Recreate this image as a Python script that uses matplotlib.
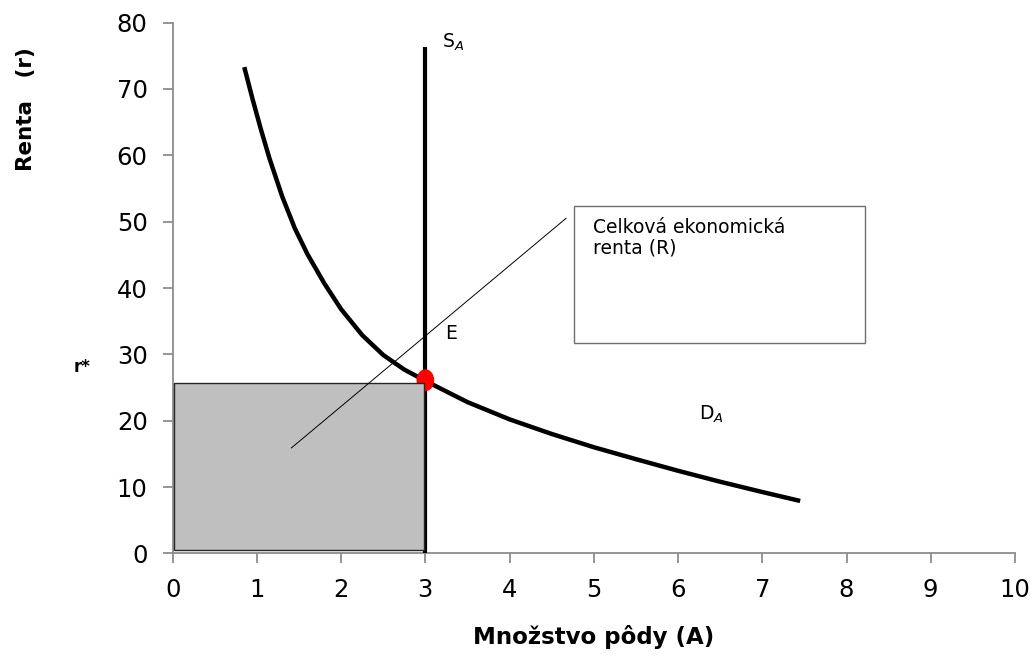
import numpy as np
import matplotlib
matplotlib.use("Agg")
import matplotlib.pyplot as plt
from matplotlib.patches import Rectangle, Ellipse

plt.rcParams['font.family'] = ['DejaVu Sans']

# demand curve D_A
demand_x = [0.85, 0.95, 1.05, 1.15, 1.3, 1.45, 1.6, 1.8, 2.0, 2.25, 2.5, 2.75, 3.0,
            3.5, 4.0, 4.5, 5.0, 5.5, 6.0, 6.5, 7.0, 7.45]
demand_y = [73.3, 68.4, 63.8, 59.5, 53.8, 49.0, 45.1, 40.7, 36.8, 32.9, 29.9, 27.7, 26.0,
            22.8, 20.2, 18.0, 16.0, 14.2, 12.45, 10.8, 9.25, 7.9]

# vertical supply S_A
supply_x = [3.0, 3.0]
supply_y = [0.0, 76.3]

# equilibrium E
eq_x = 3.0
eq_y = 26.1

# rent rectangle
rent_x0, rent_x1 = 0.02, 2.98
rent_y0, rent_y1 = 0.5, 25.7

# pointer line from rectangle to the box
pointer_x = [1.41, 4.67]
pointer_y = [15.9, 50.5]

# text box
box_x0, box_x1 = 4.76, 8.22
box_y0, box_y1 = 31.7, 52.3

x_ticks = list(range(0, 11))
y_ticks = list(range(0, 81, 10))

fig = plt.figure(figsize=(10.34, 6.58), dpi=100)
ax = fig.add_axes([0.167, 0.159, 0.8146, 0.8066])

ax.plot(demand_x, demand_y, color='black', lw=3.2, solid_capstyle='butt',
        solid_joinstyle='round', zorder=3)
ax.plot(supply_x, supply_y, color='black', lw=3.0, solid_capstyle='butt', zorder=3)
ax.add_patch(Ellipse((eq_x, eq_y), 0.21, 3.3, facecolor='red', edgecolor='none', zorder=4))
ax.add_patch(Rectangle((rent_x0, rent_y0), rent_x1 - rent_x0, rent_y1 - rent_y0,
                       facecolor='#bfbfbf', edgecolor='#262626', lw=1.0, zorder=5))
ax.plot(pointer_x, pointer_y, color='black', lw=0.7, zorder=6)
ax.add_patch(Rectangle((box_x0, box_y0), box_x1 - box_x0, box_y1 - box_y0,
                       facecolor='white', edgecolor='#707070', lw=1.0, zorder=6))
ax.text(4.99, 50.6, 'Celková ekonomická\nrenta (R)', fontsize=13.5, va='top', ha='left',
        linespacing=1.1, zorder=7)

ax.text(3.2, 77.0, '$\\mathregular{S_{\\mathit{A}}}$', fontsize=13.5, va='center', ha='left')
ax.text(3.24, 33.2, 'E', fontsize=13.5, va='center', ha='left')
ax.text(6.25, 20.9, '$\\mathregular{D_{\\mathit{A}}}$', fontsize=13.5, va='center', ha='left')

ax.set_xlim(0, 10)
ax.set_ylim(0, 80)
ax.set_xticks(x_ticks)
ax.set_yticks(y_ticks)
for s in ['top', 'right']:
    ax.spines[s].set_visible(False)
for s in ['left', 'bottom']:
    ax.spines[s].set_color('#8c8c8c')
    ax.spines[s].set_linewidth(1.3)
ax.tick_params(axis='both', direction='out', length=7, width=1.3, color='#8c8c8c',
               labelsize=17.5)
ax.tick_params(axis='x', pad=11)
ax.tick_params(axis='y', pad=11)

fig.text(0.574, 0.032, 'Množstvo pôdy (A)', fontsize=16.5, fontweight='bold',
         ha='center', va='center')
fig.text(0.025, 0.835, 'Renta   (r)', fontsize=15.5, fontweight='bold',
         rotation=90, ha='center', va='center')
fig.text(0.079, 0.442, 'r*', fontsize=12, fontweight='bold', ha='center', va='center')

fig.savefig('out.png', dpi=100)
